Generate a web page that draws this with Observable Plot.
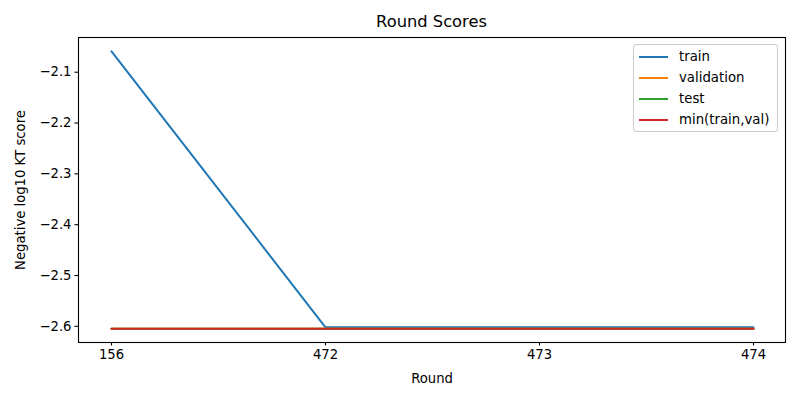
<!DOCTYPE html>
<html>
<head>
<meta charset="utf-8">
<script src="https://cdn.jsdelivr.net/npm/d3@7"></script>
<script src="https://cdn.jsdelivr.net/npm/@observablehq/plot@0.6"></script>
<style>
  body { margin: 0; background: #fff; font-family: "DejaVu Sans", sans-serif; }
  #wrap { position: relative; width: 800px; height: 400px; }
  #title { position: absolute; top: 12px; left: 78px; width: 707px; text-align: center; font-size: 16.3px; color: #000; }
  #legend { position: absolute; left: 633px; top: 44px; width: 145px; height: 88px; border: 1px solid #ccc; border-radius: 3px; background: rgba(255,255,255,0.8); font-size: 13.3px; box-sizing: border-box; padding: 1px 0 0 5px; }
  .row { display: flex; align-items: center; height: 21px; }
  .sw { width: 29px; height: 0; border-top: 2px solid; margin-right: 11px; }
  #chart svg text { font-size: 13.2px; }
</style>
</head>
<body>
<div id="wrap">
  <div id="title">Round Scores</div>
  <div id="chart"></div>
  <div id="legend"></div>
</div>
<script>
const rounds = ["156", "472", "473", "474"];
const train = [-2.059, -2.602, -2.602, -2.602];
const validation = [-2.6045, -2.6045, -2.6045, -2.6045];
const test = [-2.6045, -2.6045, -2.6045, -2.6045];
const minTrainVal = [-2.6045, -2.6045, -2.6045, -2.6045];
const seriesNames = ["train", "validation", "test", "min(train,val)"];
const seriesColors = ["#1f77b4", "#ff7f0e", "#2ca02c", "#d62728"];
const yTicks = [-2.1, -2.2, -2.3, -2.4, -2.5, -2.6];

const seriesValues = [train, validation, test, minTrainVal];
const data = seriesValues.flatMap((vals, s) =>
  vals.map((v, i) => ({ round: rounds[i], value: v, series: seriesNames[s] }))
);

const chart = Plot.plot({
  width: 800,
  height: 400,
  marginLeft: 78,
  marginRight: 15,
  marginTop: 37,
  marginBottom: 58,
  style: { fontFamily: "DejaVu Sans, sans-serif", fontSize: "13.2px", color: "#000", background: "#fff" },
  x: { type: "point", domain: rounds, padding: 0.15, label: null },
  y: { domain: [-2.6318, -2.0317], label: null },
  color: { domain: seriesNames, range: seriesColors },
  marks: [
    Plot.frame({ stroke: "#000", strokeWidth: 1.1 }),
    Plot.axisX({ ticks: rounds, tickSize: 3.5, tickPadding: 3.5, strokeWidth: 1.1, label: "Round", labelAnchor: "center", labelArrow: "none", labelOffset: 40 }),
    Plot.axisY({ ticks: yTicks, tickSize: 3.5, tickPadding: 3.5, strokeWidth: 1.1, tickFormat: d => d3.format(".1f")(d), label: "Negative log10 KT score", labelAnchor: "center", labelArrow: "none", labelOffset: 63 }),
    ...seriesNames.map(name =>
      Plot.line(data.filter(d => d.series === name), { x: "round", y: "value", stroke: "series", strokeWidth: 2 })
    )
  ]
});
document.getElementById("chart").appendChild(chart);

const legend = document.getElementById("legend");
seriesNames.forEach((n, i) => {
  const row = document.createElement("div");
  row.className = "row";
  row.innerHTML = `<span class="sw" style="border-color:${seriesColors[i]}"></span><span>${n}</span>`;
  legend.appendChild(row);
});
</script>
</body>
</html>
